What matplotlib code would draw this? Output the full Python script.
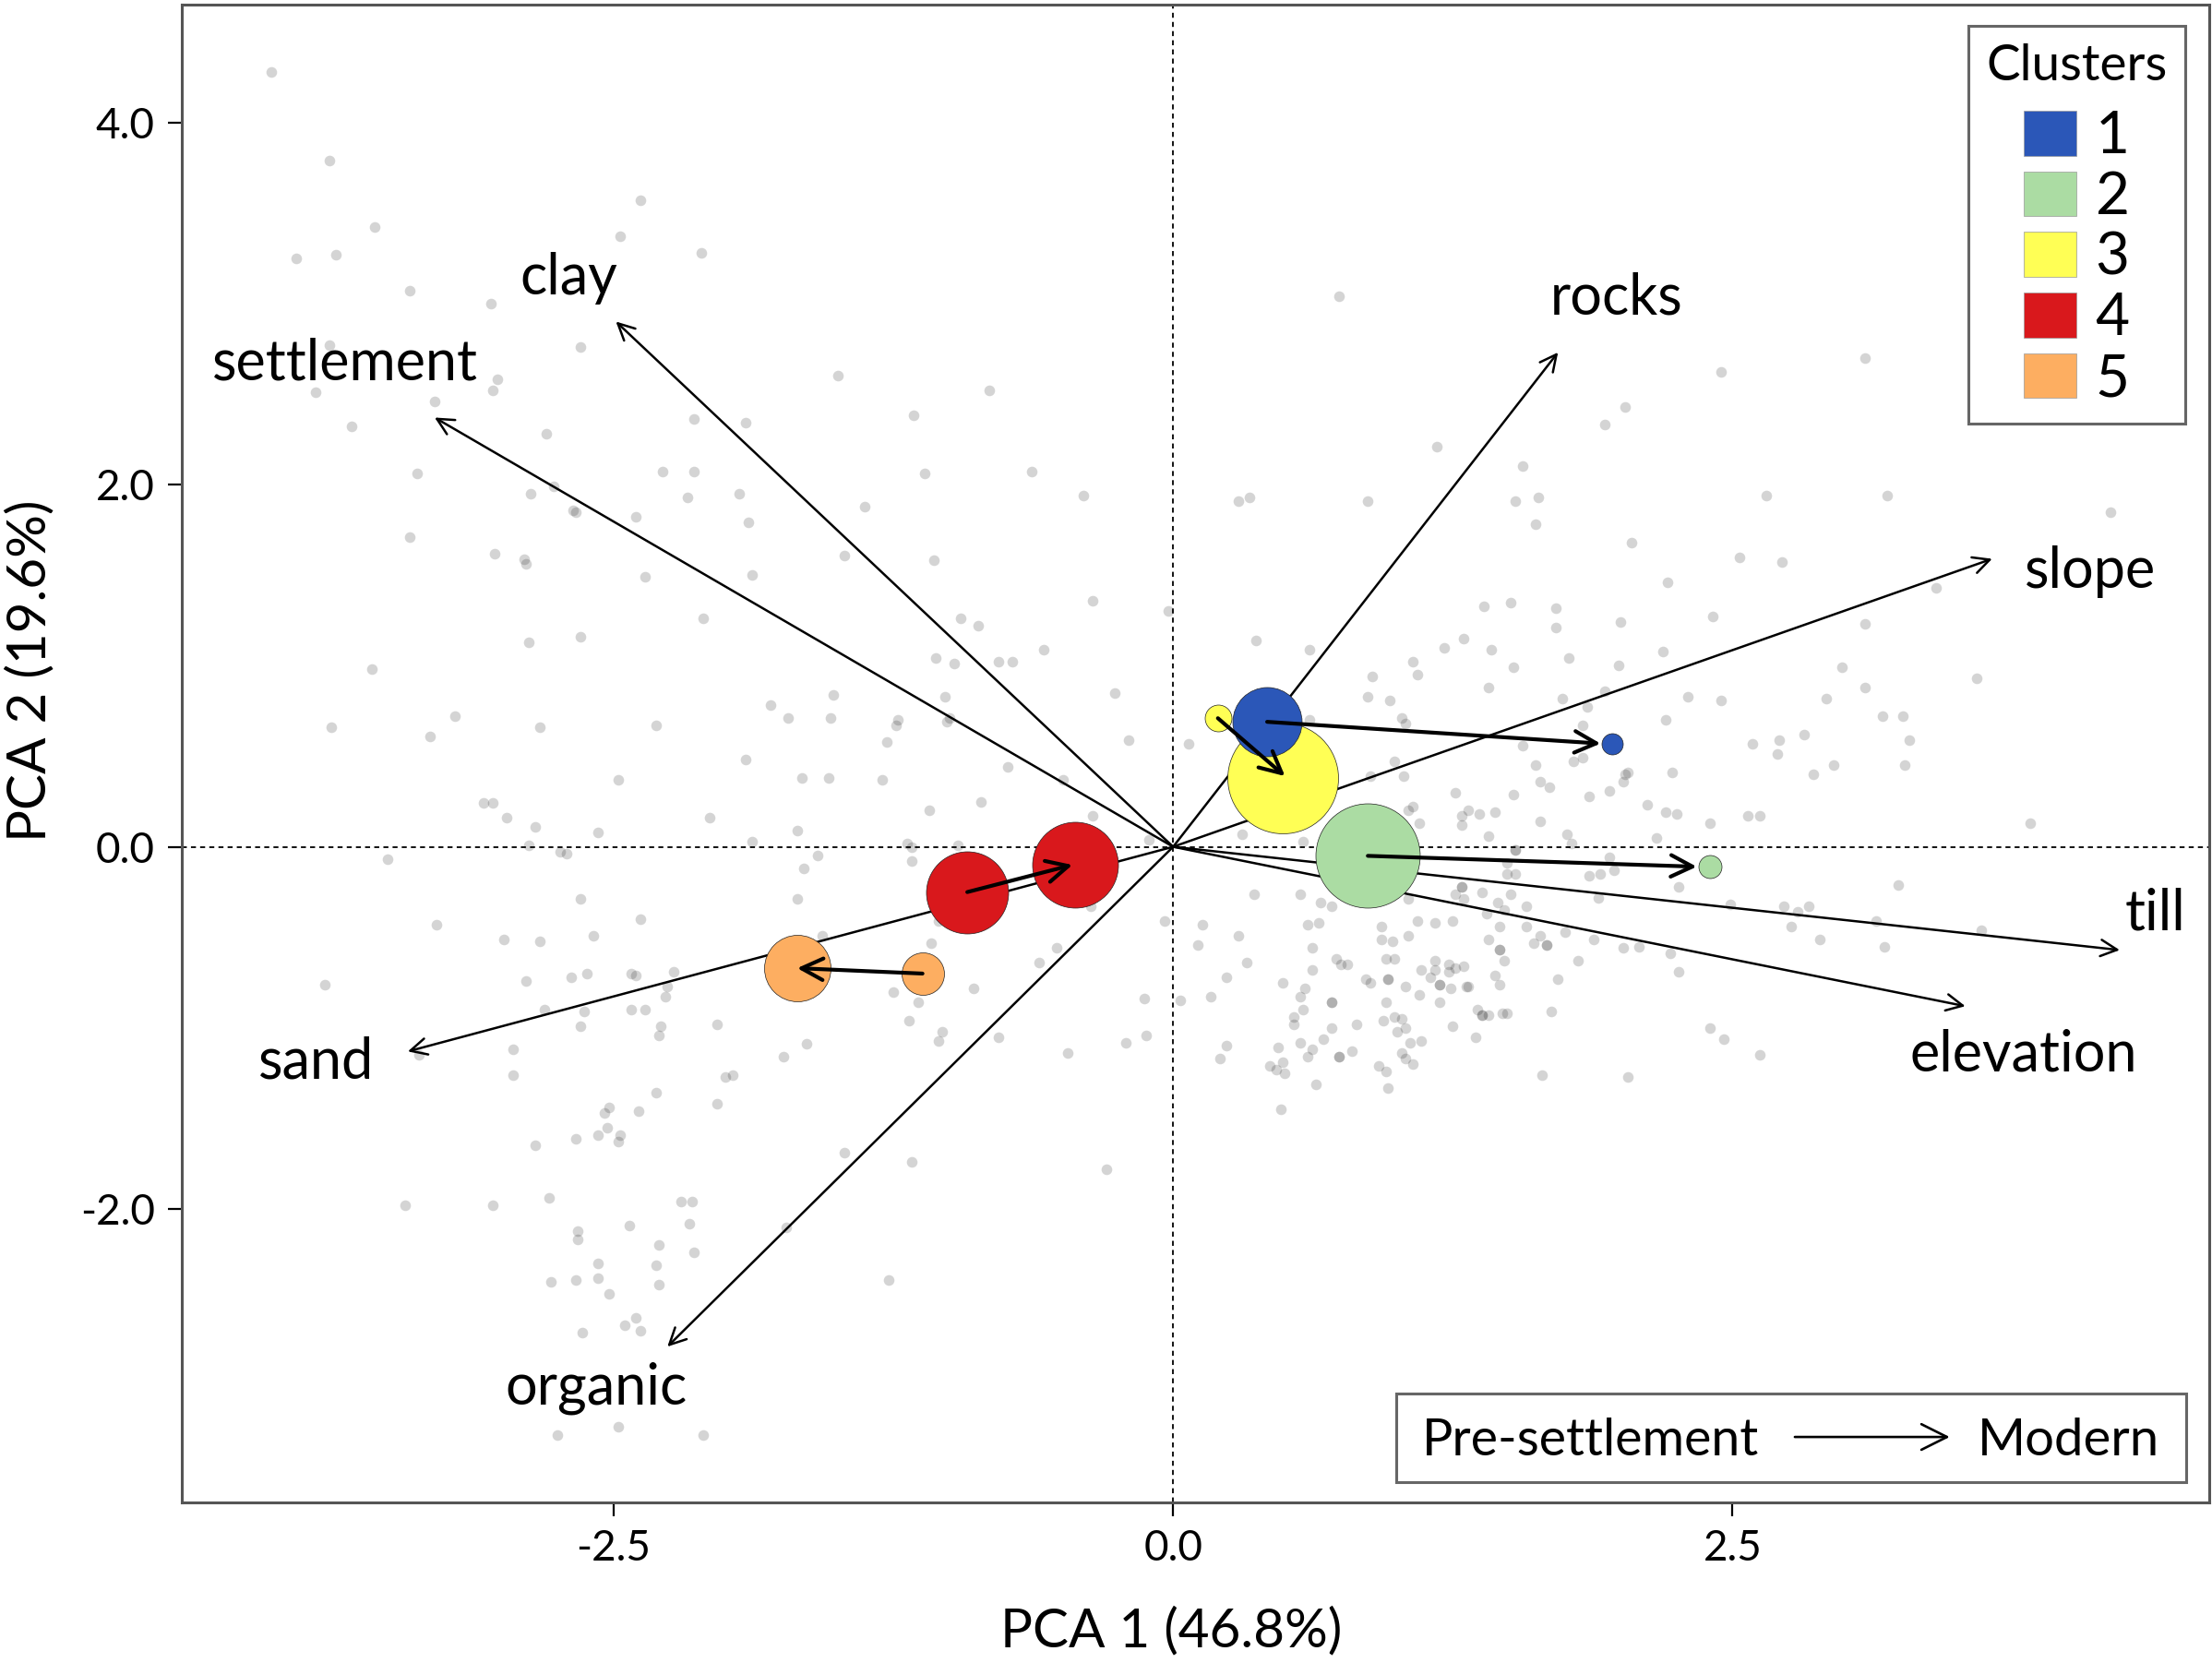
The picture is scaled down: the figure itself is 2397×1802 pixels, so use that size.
import matplotlib
matplotlib.use('Agg')
import matplotlib.pyplot as plt
from matplotlib.patches import Patch, Rectangle

plt.rcParams['font.family'] = ['Lato', 'DejaVu Sans']
plt.rcParams['axes.unicode_minus'] = False

# site scores
site_x = [-4.03, -3.77, -2.38, -2.47, -2.11, -3.57, -3.92, -3.74, -3.41, -3.05, -2.65, -3.77, -3.02, -3.04, -3.83,
          -3.30, -3.67, -2.80, -1.50, -0.82, -1.16, -2.14, -1.91, -3.38, -2.28, -2.14, -1.11, -0.63, -2.77, -2.87,
          -1.94, -2.17, -0.40, -1.38, -2.68, -2.67, -2.40, -1.90, -3.41, -1.47, -3.03, -2.90, -2.89, -1.07, -2.36,
          -1.88, -0.36, -0.02, -2.10, -0.95, -0.87, -2.88, -2.65, -0.58, -1.06, -0.98, -0.78, -0.72, -3.58, -1.52,
          -1.02, -0.26, -1.80, -1.72, -1.53, -3.21, -3.76, -3.32, -2.83, -2.31, -1.23, -1.24, -1.00, -1.01, -1.28,
          -0.20, 0.07, -1.91, -0.74, -2.48, -1.66, -1.54, -1.30, -0.49, -3.08, -3.04, -0.86, -1.09, -2.98, -2.07,
          -0.36, -2.85, -2.57, -1.68, -2.88, -1.88, -1.19, -1.17, -0.96, -0.11, -2.74, -2.71, -3.51, -1.59, -1.17,
          -1.65, -2.65, -1.68, -0.37, -2.38, -0.04, -1.05, -3.29, -2.59, -2.99, -2.83, -1.57, -1.08, -0.52, -0.60,
          -2.23, -2.42, -2.40, -2.62, -2.69, -2.89, -3.79, -2.26, -0.89, -1.25, -2.27, -1.14, -0.13, 0.03, -2.81,
          -2.63, -2.42, -2.36, -2.04, -2.65, -2.29, -2.30, -1.18, -1.03, -1.05, -0.78, -0.12, -0.21, -1.64, -1.74,
          -0.47, -2.95, -3.37, -2.95, -1.97, -2.00, -2.31, -2.04, -2.52, -2.54, -2.39, -2.53, -2.57, -2.47, -2.48,
          -2.67, -2.85, -1.47, -1.17, -0.30, -2.79, -3.43, -3.04, -2.20, -2.15, -2.43, -2.16, -1.73, -2.66, -2.66,
          -2.30, -2.14, -2.57, -2.31, -2.78, -2.67, -2.57, -2.30, -1.27, -2.52, -2.40, -2.45, -2.38, -2.64, -2.48,
          -2.75, -2.10,
          0.74, 3.09, 2.45, 2.02, 1.93, 1.18, 1.56, 0.29, 0.34, 0.87, 1.53, 1.63, 2.65, 3.19, 4.19, 1.62, 2.05, 2.53,
          2.72, 2.21, 3.41, 1.39, 1.51, 1.71, 2.41, 1.71, 2.00, 3.09, 0.37, 0.61, 1.30, 1.21, 1.42, 2.19, 1.07, 1.09,
          0.89, 1.52, 1.77, 1.99, 2.99, 1.41, 3.59, 3.09, 1.93, 0.87, 0.97, 1.74, 2.30, 2.45, 2.92, 1.85, 1.02, 1.04,
          0.61, 2.20, 3.17, 3.26, 1.83, 2.82, 2.59, 2.71, 3.29, 1.56, 2.70, 1.83, 1.79, 1.62, 0.99, 2.95, 3.27,
          2.03, 2.02, 2.23, 2.86, 1.03, 0.88, 1.64, 1.68, 2.01, 1.86, 1.95, 1.26, 1.52, 2.12, 2.20, 2.25, 2.57, 2.62,
          2.40, 3.83, 1.07, 1.05, 1.32, 1.37, 1.44, 1.29, 1.29, 1.10, 1.64, 0.31, 0.58, 1.41, 1.76, 2.16, 1.78, 1.53,
          1.53, 1.95, 1.49, 1.49, 1.53, 1.86, 1.91, 1.97, 3.24, 2.26, 1.29, 1.29, 1.26, 1.38, 1.51, 1.30, 1.90, 0.36,
          0.57, 0.66, 0.71, 1.05, 1.45, 1.58, 2.49, 2.73, 2.79, 2.84, 1.40, 1.48, 3.14, 0.13, 0.60, 0.65, 1.09, 1.17,
          1.25, 0.93, 1.46, 1.58, 2.76, 3.61, 1.75, 1.64, 0.29, 0.93, 0.98, 1.05, 1.41, 1.88, 1.61, 2.89, 0.11, 1.67,
          1.67, 3.18, 2.08, 2.01, 0.62, 1.46, 1.46, 2.22, 0.95, 0.99, 0.73, 1.81, 1.48, 0.33, 0.75, 0.78, 1.17,
          1.23, 1.30, 1.26, 0.62, 1.11, 1.17, 1.23, 2.26, 1.44, 0.24, 1.15, 0.86, 0.96, 0.96, 1.72, 0.88, 0.49,
          1.04, 1.19, 1.19, 1.24, 1.31, 1.32, 1.46, 0.59, 1.10, 0.57, 0.17, 0.71, 0.71, 0.95, 1.19,
          0.58, 1.36, 1.69, 1.38, 1.38, 1.41, 1.47, 1.49, 0.54, 0.99, 0.94, 1.02, 0.54, 0.82, 0.71, 1.04, 1.00, 1.25,
          2.40, 1.35, 2.46, 0.67, 1.11, 0.57, 1.06, 0.24, 0.47, 0.62, 1.02, 2.62, 0.80, 0.74, 0.74, 0.60, 1.04, 0.21,
          0.49, 1.07, 0.43, 0.92, 0.46, 0.50, 0.95, 1.65, 2.03, 0.64, 0.96, 0.48]
site_y = [4.28, 3.79, 3.57, 3.37, 3.28, 3.42, 3.25, 3.27, 3.07, 3.00, 2.76, 2.77, 2.58, 2.52, 2.51,
          2.46, 2.32, 2.28, 2.60, 2.52, 2.38, 2.36, 2.34, 2.06, 2.07, 2.07, 2.06, 2.07, 1.99, 1.95,
          1.95, 1.93, 1.94, 1.88, 1.86, 1.85, 1.82, 1.79, 1.71, 1.61, 1.62, 1.59, 1.56, 1.58, 1.49,
          1.50, 1.36, 1.30, 1.26, 1.26, 1.22, 1.13, 1.16, 1.09, 1.04, 1.01, 1.02, 1.02, 0.98, 0.84,
          0.83, 0.85, 0.78, 0.71, 0.71, 0.72, 0.66, 0.61, 0.66, 0.67, 0.70, 0.67, 0.71, 0.69, 0.58,
          0.59, 0.57, 0.48, 0.44, 0.37, 0.38, 0.38, 0.37, 0.37, 0.24, 0.24, 0.25, 0.20, 0.16, 0.16,
          0.17, 0.11, 0.08, 0.09, 0.01, 0.03, 0.02, 0.00, 0.01, 0.04, -0.03, -0.04, -0.07, -0.05, -0.08,
          -0.12, -0.29, -0.29, -0.33, -0.40, -0.41, -0.41, -0.43, -0.49, -0.51, -0.52, -0.49, -0.53, -0.56, -0.64,
          -0.69, -0.70, -0.71, -0.70, -0.72, -0.74, -0.76, -0.77, -0.78, -0.80, -0.83, -0.86, -0.84, -0.85, -0.90,
          -0.91, -0.90, -0.90, -0.98, -0.99, -0.99, -1.04, -0.96, -1.02, -1.07, -1.05, -1.04, -1.08, -1.09, -1.16,
          -1.14, -1.12, -1.15, -1.26, -1.26, -1.27, -1.36, -1.42, -1.44, -1.47, -1.46, -1.55, -1.59, -1.59, -1.63,
          -1.61, -1.65, -1.69, -1.74, -1.78, -1.94, -1.98, -1.98, -1.96, -1.96, -2.09, -2.08, -2.10, -2.12, -2.17,
          -2.20, -2.24, -2.30, -2.31, -2.40, -2.39, -2.38, -2.42, -2.39, -2.47, -2.60, -2.64, -2.67, -2.68, -3.20,
          -3.25, -3.25,
          3.04, 2.70, 2.62, 2.43, 2.33, 2.21, 2.10, 1.91, 1.93, 1.91, 1.91, 1.93, 1.94, 1.94, 1.85, 1.78, 1.68, 1.60,
          1.57, 1.46, 1.43, 1.33, 1.35, 1.32, 1.27, 1.21, 1.24, 1.23, 1.14, 1.09, 1.15, 1.10, 1.09, 1.08, 1.02, 0.95,
          0.94, 0.99, 1.04, 1.00, 0.99, 0.88, 0.93, 0.88, 0.86, 0.83, 0.81, 0.82, 0.83, 0.81, 0.82, 0.77, 0.71, 0.68,
          0.70, 0.70, 0.72, 0.72, 0.67, 0.62, 0.57, 0.59, 0.59, 0.56, 0.51, 0.49, 0.47, 0.45, 0.47, 0.45, 0.45,
          0.41, 0.40, 0.41, 0.40, 0.39, 0.39, 0.36, 0.33, 0.36, 0.28, 0.31, 0.30, 0.29, 0.23, 0.19, 0.18, 0.17, 0.17,
          0.13, 0.13, 0.22, 0.20, 0.20, 0.18, 0.19, 0.17, 0.12, 0.13, 0.14, 0.07, 0.03, 0.06, 0.07, 0.05, 0.02, -0.02,
          -0.02, -0.06, -0.09, -0.15, -0.15, -0.16, -0.15, -0.13, -0.21, -0.22, -0.22, -0.22, -0.26, -0.25, -0.26, -0.29, -0.28, -0.26,
          -0.26, -0.31, -0.33, -0.29, -0.31, -0.33, -0.32, -0.33, -0.36, -0.33, -0.37, -0.35, -0.41, -0.43, -0.43, -0.42, -0.41, -0.42,
          -0.41, -0.44, -0.44, -0.44, -0.44, -0.46, -0.47, -0.49, -0.49, -0.51, -0.52, -0.49, -0.51, -0.51, -0.53, -0.51, -0.54, -0.54,
          -0.54, -0.55, -0.55, -0.56, -0.56, -0.57, -0.57, -0.59, -0.62, -0.62, -0.62, -0.63, -0.63, -0.64, -0.65, -0.65, -0.63,
          -0.65, -0.66, -0.67, -0.68, -0.68, -0.68, -0.69, -0.69, -0.71, -0.72, -0.72, -0.73, -0.73, -0.73, -0.73, -0.75, -0.75,
          -0.77, -0.76, -0.76, -0.78, -0.77, -0.77, -0.76, -0.78, -0.82, -0.83, -0.83, -0.86, -0.86, -0.86, -0.86,
          -0.90, -0.90, -0.91, -0.93, -0.93, -0.93, -0.92, -0.92, -0.94, -0.94, -0.96, -0.95, -0.98, -0.98, -1.00, -1.00, -1.02, -0.99,
          -1.00, -1.05, -1.06, -1.06, -1.07, -1.08, -1.08, -1.10, -1.11, -1.12, -1.14, -1.15, -1.13, -1.16, -1.16, -1.16, -1.17, -1.17,
          -1.19, -1.20, -1.21, -1.21, -1.23, -1.25, -1.24, -1.26, -1.27, -1.31, -1.33, -1.45]

# variable loadings
var_names = ['clay', 'settlement', 'rocks', 'slope', 'till', 'elevation', 'sand', 'organic']
var_x = [-2.49, -3.30, 1.72, 3.66, 4.23, 3.54, -3.42, -2.26]
var_y = [2.90, 2.37, 2.73, 1.59, -0.57, -0.88, -1.13, -2.76]
label_x = [-2.70, -3.70, 1.98, 4.10, 4.39, 3.80, -3.83, -2.58]
label_y = [3.14, 2.67, 3.03, 1.52, -0.37, -1.15, -1.19, -2.99]

# cluster centroids
clusters = ['1', '2', '3', '4', '5']
colors = ['#2b57b8', '#abdca3', '#ffff55', '#d9181c', '#fdae61']
pre_x = [1.96, 0.87, 0.20, -0.92, -1.12]
pre_y = [0.57, -0.05, 0.71, -0.25, -0.70]
mod_x = [0.42, 2.40, 0.49, -0.44, -1.68]
mod_y = [0.69, -0.11, 0.38, -0.10, -0.67]
pre_d = [23, 113, 29, 89, 46]
mod_d = [75, 25, 120, 93, 72]
# cluster arrows go start -> tip
arrow_x0 = [0.42, 0.87, 0.20, -0.92, -1.12]
arrow_y0 = [0.69, -0.05, 0.71, -0.25, -0.70]
arrow_x1 = [1.91, 2.34, 0.50, -0.45, -1.68]
arrow_y1 = [0.57, -0.11, 0.39, -0.10, -0.67]

W, H = 2397, 1802
fig = plt.figure(figsize=(W / 100, H / 100), dpi=100)
ax = fig.add_axes([197 / W, 1 - 1628 / H, 2197 / W, 1623 / H])
ax.set_xlim(-4.43, 4.63)
ax.set_ylim(-3.62, 4.65)

ax.scatter(site_x, site_y, s=70, color='black', alpha=0.17, linewidths=0, zorder=1)
ax.axhline(0, color='black', lw=1.3, ls=(0, (3, 2.5)), zorder=2)
ax.axvline(0, color='black', lw=1.3, ls=(0, (3, 2.5)), zorder=2)

for i in range(len(var_names)):
    ax.annotate('', xy=(var_x[i], var_y[i]), xytext=(0, 0), zorder=3,
                arrowprops=dict(arrowstyle='->', color='black', lw=1.8, shrinkA=0, shrinkB=0, mutation_scale=32))
    ax.text(label_x[i], label_y[i], var_names[i], fontsize=44, ha='center', va='center', zorder=6)

# yellow goes first so blue sits on top of it
for i in [2, 1, 0, 3, 4]:
    ax.scatter(pre_x[i], pre_y[i], s=(pre_d[i] * 0.72) ** 2, color=colors[i], edgecolor='#222222', linewidths=0.5, zorder=4)
    ax.scatter(mod_x[i], mod_y[i], s=(mod_d[i] * 0.72) ** 2, color=colors[i], edgecolor='#222222', linewidths=0.5, zorder=4)

for i in range(len(clusters)):
    ax.annotate('', xy=(arrow_x1[i], arrow_y1[i]), xytext=(arrow_x0[i], arrow_y0[i]), zorder=5,
                arrowprops=dict(arrowstyle='->', color='black', lw=3, shrinkA=0, shrinkB=0, mutation_scale=42))

ax.set_xticks([-2.5, 0, 2.5])
ax.set_xticklabels(['-2.5', '0.0', '2.5'])
ax.set_yticks([-2, 0, 2, 4])
ax.set_yticklabels(['-2.0', '0.0', '2.0', '4.0'])
ax.tick_params(length=11, width=1.6, labelsize=33, pad=10)
for s in ax.spines.values():
    s.set_color('#555555')
    s.set_linewidth(2.2)

ax.set_xlabel('PCA 1 (46.8%)', fontsize=42, va='center')
ax.xaxis.set_label_coords(0.488, -0.086)
ax.set_ylabel('PCA 2 (19.6%)', fontsize=42, va='center')
ax.yaxis.set_label_coords(-0.075, 0.555)

handles = [Patch(facecolor=c, edgecolor='#999999', lw=0.5) for c in colors]
leg = ax.legend(handles, clusters, title='Clusters', loc='upper right', bbox_to_anchor=(0.988, 0.986),
                borderaxespad=0, fontsize=46, title_fontsize=39.5, handlelength=0.895, handleheight=0.8,
                labelspacing=0.12, handletextpad=0.32, borderpad=0.3, fancybox=False, framealpha=1,
                edgecolor='#666666')
leg.get_frame().set_linewidth(2.2)
leg.set_zorder(7)
leg._legend_box.sep = 17

# Pre-settlement -> Modern key
ax.add_patch(Rectangle((0.599, 0.0136), 0.3895, 0.059, transform=ax.transAxes, facecolor='white',
                       edgecolor='#666666', lw=2.2, zorder=7))
ax.text(0.695, 0.041, 'Pre-settlement', transform=ax.transAxes, fontsize=40, ha='center', va='center', zorder=8)
ax.text(0.9305, 0.041, 'Modern', transform=ax.transAxes, fontsize=40.5, ha='center', va='center', zorder=8)
ax.annotate('', xy=(0.872, 0.0437), xytext=(0.7956, 0.0437), xycoords='axes fraction', zorder=8,
            arrowprops=dict(arrowstyle='->', color='black', lw=1.9, shrinkA=0, shrinkB=0, mutation_scale=50))

fig.savefig('out.png', dpi=100)
